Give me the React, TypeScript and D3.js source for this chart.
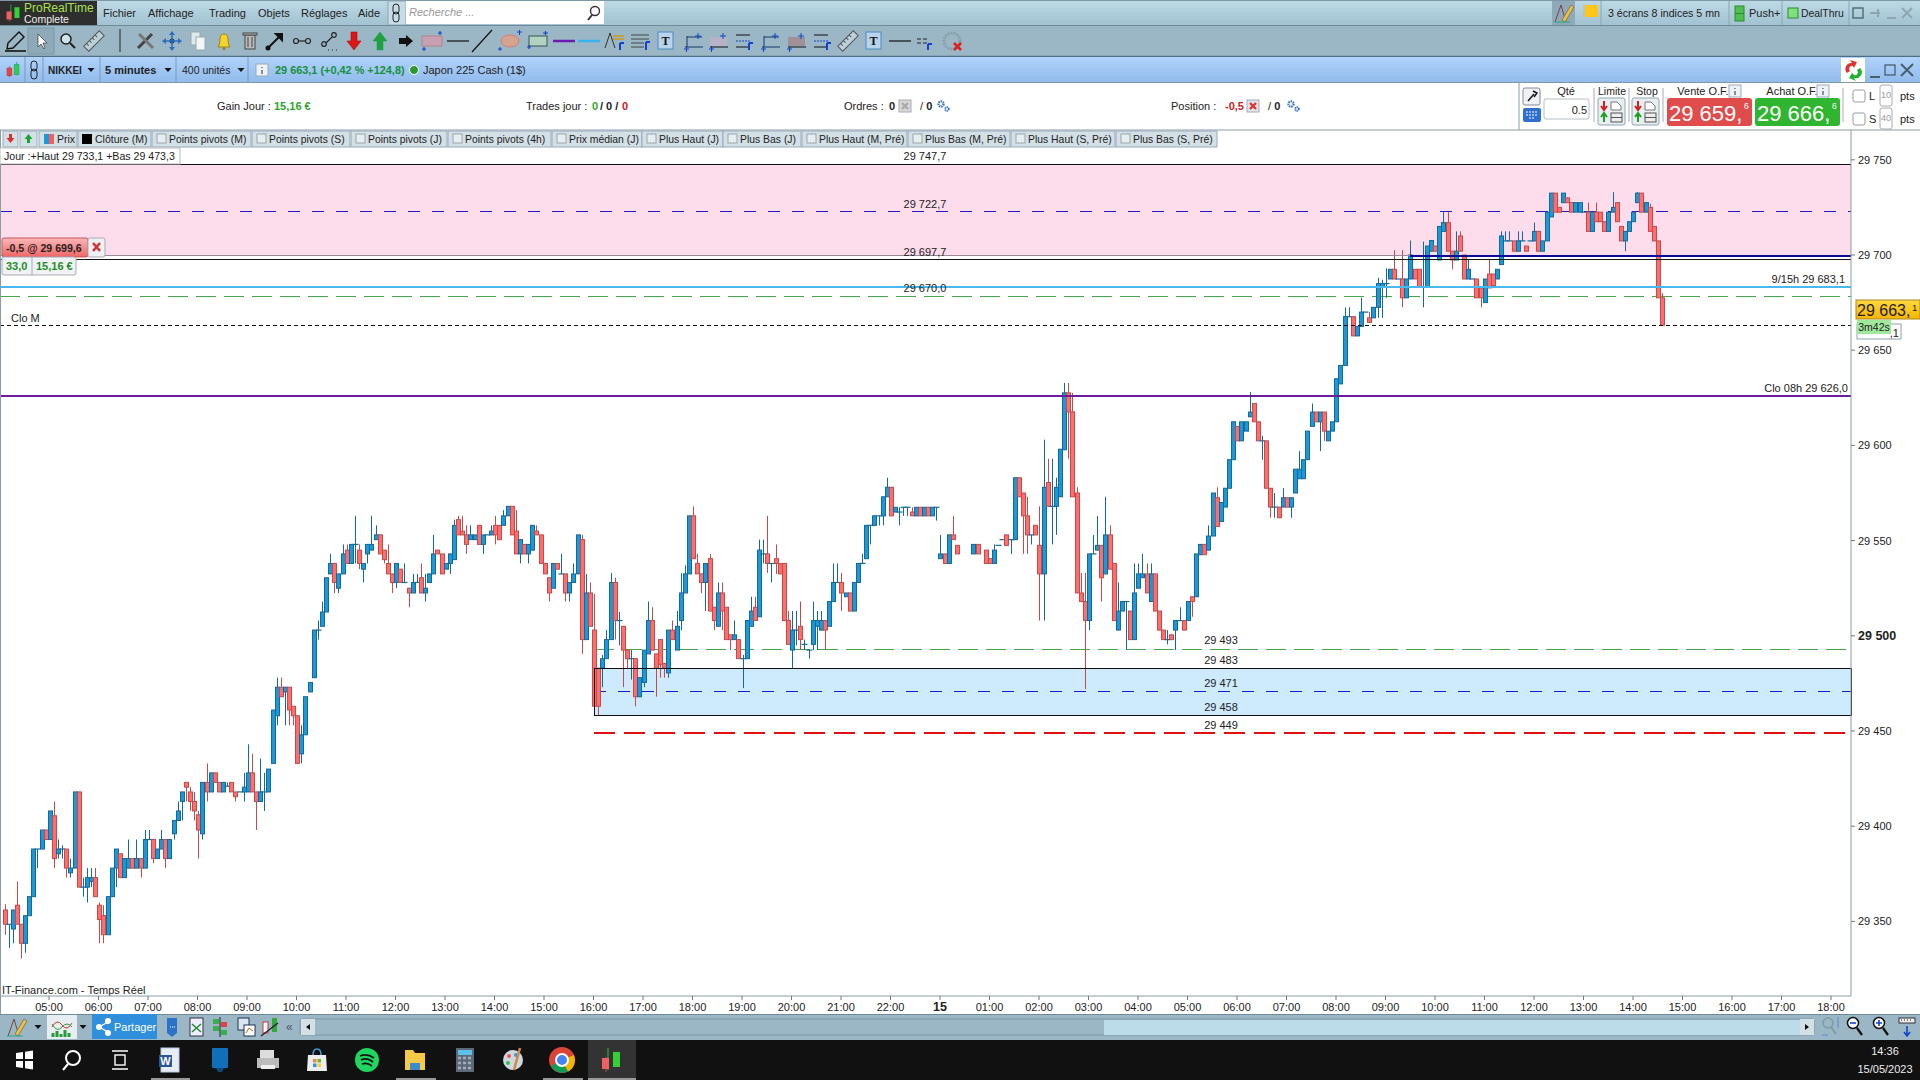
import React from "react";
import * as d3 from "d3";

type Row = [number, number, number, number] | null;

// [open, high, low, close], one row per 5-minute bar
const candlesEvening: Row[] = [
[29356,29359,29343,29348.5],[29348.5,29348.5,29336,29348.5],[29346,29356,29338.5,29356],[29358.5,29371,29348.5,29348.5],[29348.5,29348.5,29330.5,29338.5],
[29338.5,29353,29333.5,29353],[29353,29363,29353,29363],[29363,29388,29363,29388],[29388,29388,29378,29388],[29388,29398,29388,29398],
[29398,29398,29393,29393],[29393,29408,29393,29408],[29405.5,29413,29378,29383],[29385.5,29393,29383,29388],[29388,29390,29383,29388],
[29388,29388,29373,29378],[29375.5,29383,29373,29378],[29378,29418,29378,29418],[29418,29418,29368,29368],[29368,29373,29363,29368],
[29368,29378,29360,29373],[29371,29378,29368,29373],[29373,29378,29363,29363],[29358.5,29360,29338.5,29351],[29353,29358.5,29338.5,29343],
[29343,29363,29343,29363],[29363,29378,29363,29378],[29378,29388,29368,29388],[29385.5,29385.5,29373,29373],[29373,29383,29373,29383],
[29378,29393,29378,29383],[29383,29383,29378,29378],[29378,29393,29378,29383],[29383,29383,29373,29378],[29378,29398,29378,29393],
[29393,29398,29393,29393],[29393,29393,29380.5,29383],[29383,29388,29383,29388],[29388,29398,29388,29393],[29393,29393,29378,29383],
[29383,29393,29383,29393],[29396,29403,29393,29403],[29403,29413,29403,29408],[29413,29418,29403,29418],[29423,29423,29413,29420.5],
[29418,29420.5,29408,29413],[29413,29418,29403,29408],[29406,29408,29383,29398],[29396,29423,29393,29423],[29423,29433,29413,29418],
[29418,29428,29418,29428],[29428,29428,29423,29423],[29423,29423,29418,29418],[29418,29423,29418,29423],[29421,29423,29421,29421],
[29423,29423,29418,29418],[29418,29418,29413,29415.5],[29418,29418,29418,29418],[29418,29428,29413,29420.5],[29418,29443,29418,29428],
[29428,29438,29418,29418],[29418,29418,29398,29413],[29413,29435.5,29413,29418],[29418,29428,29408,29418],[29418,29430,29418,29430],
[29433,29461,29433,29461],[29458,29478,29453,29473],[29473,29478,29468,29468],[29470.5,29473,29453,29473],[29473,29473,29453,29461],
];
const candlesNight: Row[] = [
[29463,29463,29453,29458],[29458,29458,29433,29433],[29438,29453,29433,29448],[29448,29468,29448,29468],[29470.5,29475.5,29470.5,29475.5],
[29478,29503,29478,29503],[29503,29508,29498,29503],[29505,29518,29505,29512.5],[29512.5,29530.5,29512.5,29530.5],[29532.5,29543,29532.5,29538],
[29538,29538,29522.5,29528],[29525,29532.5,29522.5,29532.5],[29532.5,29548,29532.5,29543],[29545,29548,29538,29538],[29538,29548,29538,29548],
[29548,29563,29538,29548],[29545,29548,29535,29538],[29535,29538,29528,29538],[29543,29548,29538,29548],[29545,29563,29545,29548],
[29550.5,29558,29550.5,29553],[29553,29553,29543,29543],[29545,29545,29538,29540],[29538,29548,29532.5,29532.5],[29532.5,29532.5,29522.5,29528],
[29528,29538,29525,29538],[29535,29535,29528,29528],[29528,29538,29528,29528],[29525,29525,29515,29522.5],[29522.5,29532.5,29522.5,29528],
[29528,29532.5,29528,29528],[29530.5,29538,29522.5,29522.5],[29522.5,29532.5,29518,29525],[29528,29532.5,29528,29532.5],[29532.5,29553,29532.5,29543],
[29545,29545,29543,29543],[29543,29543,29532.5,29532.5],[29535,29538,29535,29538],[29538,29543,29532.5,29543],[29540,29561,29540,29558],
[29561,29563,29553,29553],[29555,29563,29553,29553],[29553,29558,29543,29548],[29550.5,29558,29550.5,29553],[29550.5,29553,29550.5,29553],
[29558,29558,29548,29548],[29548,29553,29543,29553],[29553,29553,29553,29553],[29553,29558,29553,29555],[29558,29563,29548,29553],
[29558,29558,29550.5,29550.5],[29558,29566,29558,29563],[29563,29568,29563,29568],[29568,29568,29553,29553],[29555,29566,29543,29543],
[29543,29550.5,29538,29550.5],[29548,29548,29543,29543],[29543,29548,29538,29548],[29545,29558,29545,29558],[29555,29558,29553,29553],
[29553,29553,29538,29538],[29538,29538,29532.5,29532.5],[29530.5,29530.5,29518,29522.5],[29525,29538,29525,29538],[29538,29538,29535,29535],
[29532.5,29543,29532.5,29532.5],[29532.5,29532.5,29518,29522.5],[29522.5,29528,29518,29528],[29528,29538,29528,29532.5],[29532.5,29553,29532.5,29553],
[29550.5,29553,29490.5,29498],
];
const candlesAfternoon: Row[] = [
[29498,29532.5,29498,29522.5],[29522.5,29528,29505,29505],[29503,29522,29463,29463],[29483,29483,29458,29463],[29483,29490,29473,29488],
[29488,29503,29488,29498],[29498,29533,29498,29528],[29528,29530.5,29498,29508],[29508,29512.5,29495,29508],[29505,29505,29473,29492.5],
[29492.5,29492.5,29483,29488],[29488,29492.5,29477,29488],[29488,29488,29463,29468],[29468,29478,29468,29478],[29475.5,29492.5,29473,29492.5],
[29490.5,29518,29490.5,29508],[29508,29515,29492.5,29492.5],[29490.5,29490.5,29468,29483],[29498,29498,29478,29485],[29485.5,29485.5,29478,29483],
[29480.5,29503,29478,29503],[29503,29508,29498,29498],[29492.5,29513,29492.5,29505],[29508,29533,29503,29522.5],[29522.5,29537,29522.5,29532.5],
[29532.5,29563,29532.5,29563],[29563,29568,29540.5,29540.5],[29538,29543,29532.5,29532.5],[29532.5,29532.5,29522.5,29528],[29528,29538,29513,29538],
[29540.5,29543,29513,29513],[29515,29515,29503,29508],[29505,29528,29505,29522.5],[29522.5,29528,29503,29513],[29515,29515,29498,29498],
[29500.5,29500.5,29492.5,29498],[29498,29508,29498,29500.5],[29498,29498,29488,29488],[29488,29490,29472.5,29488],[29488,29508,29488,29508],
[29505,29520.5,29505,29513],[29515,29520.5,29508,29508],[29510,29550.5,29510,29545],[29543,29550.5,29538,29543],[29543,29563,29533,29538],
[29538,29538,29528,29538],[29540.5,29548,29532.5,29538],[29538,29538,29532.5,29532.5],[29538,29538,29508,29508],[29508,29513,29495.5,29495.5],
[29492.5,29513,29483,29503],[29503,29513,29495,29503],[29505,29518,29492.5,29498],[29495.5,29498,29492.5,29495.5],[29492.5,29492.5,29488,29492.5],
[29495.5,29518,29492.5,29508],[29505,29513,29492.5,29508],[29503,29513,29503,29508],[29508,29508,29492.5,29503],[29505,29518,29505,29518],
[29518,29538,29518,29528],[29528,29538,29528,29528],[29528,29533,29513,29522.5],[29520.5,29522.5,29520.5,29522.5],[29522.5,29522.5,29513,29513],
[29513,29528,29513,29528],[29528,29538,29528,29538],[29538,29543,29538,29538],[29540.5,29558,29540.5,29558],[29558,29558,29548,29558],
[29558,29563,29558,29563],[29563,29563,29558,29563],[29563,29573,29558,29573],[29573,29583,29573,29578],[29578,29578,29563,29563],
[29565,29567.5,29565,29567.5],[29565,29567.5,29558,29565],[29567.5,29567.5,29563,29567.5],[29567.5,29567.5,29563,29567.5],[29565,29567.5,29563,29563],
[29563,29567.5,29563,29567.5],[29567.5,29567.5,29563,29563],[29563,29567.5,29563,29567.5],[29567.5,29567.5,29563,29563],[29563,29567.5,29563,29567.5],
[29567.5,29567.5,29560.5,29567.5],
];
const candlesEarlyMorning: Row[] = [
[29540.5,29553,29540.5,29543],[29543,29543,29538,29538],[29538,29553,29538,29553],[29553,29563,29550.5,29550.5],[29547.5,29547.5,29543,29543],
null,null,null,
[29543,29548,29543,29548],[29548,29548,29543,29543],null,[29545,29545,29538,29538],[29540.5,29540.5,29538,29538],
[29538,29548,29538,29545],[29547.5,29547.5,29547.5,29547.5],[29550.5,29550.5,29550.5,29550.5],[29553,29553,29547.5,29547.5],[29550.5,29550.5,29543,29550.5],
[29550.5,29583,29550.5,29583],[29583,29583,29573,29573],[29575,29575,29543,29563],[29563,29573,29543,29553],[29553,29553,29548,29553],
[29558,29558,29553,29553],[29547.5,29568,29508,29532.5],[29532.5,29603,29508,29578],[29580.5,29593,29568,29568],[29568,29593,29548,29568],
[29568,29583,29553,29578],[29573,29598,29573,29598],[29597.7,29632.8,29597.7,29627.6],[29627.6,29632.8,29593,29617.6],[29617.6,29627.6,29573,29573],
[29575,29578,29575,29522.5],[29522.5,29533,29518,29518],[29518,29533,29472,29508],[29508,29543,29503,29543],[29543,29553,29543,29543],
[29545,29563,29545,29547.5],[29547.5,29547.5,29518,29530.5],[29532.5,29573,29532.5,29553],[29553,29558,29535,29535],[29538,29538,29508,29508],
[29503,29528,29503,29513],[29513,29518,29513,29518],[29518,29518,29492.5,29518],[29513,29513,29498,29498],[29498,29538,29498,29522.5],
[29525,29538,29525,29532.5],[29530.5,29543,29530.5,29532.5],[29532.5,29538,29522.5,29522.5],[29518,29538,29518,29532.5],[29532.5,29532.5,29513,29513],
[29513,29513,29503,29503],[29503,29503,29498,29498],[29498,29503,29495.5,29498],[29500.5,29500.5,29498,29498],[29503,29508,29492.5,29508],
[29508,29515,29508,29508],[29508,29508,29503,29503],[29508,29518,29508,29518],[29520.5,29520.5,29510,29518],[29520.5,29543,29520.5,29543],
];
const candlesMorning: Row[] = [
[29542.6,29548,29542.6,29548],[29548,29548,29542.6,29542.6],[29545,29558,29545,29552.4],[29552.4,29575,29552.4,29575],[29572.5,29578,29557.4,29557.4],
[29560,29570,29560,29570],[29567.6,29577.5,29567.6,29577.5],[29577.5,29592.5,29577.5,29592.5],[29592.5,29612.4,29592.5,29612.4],[29610,29610,29602.4,29602.4],
[29602.4,29612.4,29602.4,29612.4],[29607.5,29612.4,29607.5,29612.4],[29615,29628,29615,29617.5],[29622,29622,29612.4,29612.4],[29612.4,29612.4,29602.4,29602.4],
[29602.4,29605,29592.5,29602.4],[29602.4,29602.4,29577.5,29577.5],[29577.5,29577.5,29562,29567.6],[29567.6,29575,29562,29567.6],[29567.6,29567.6,29562,29562],
[29567.6,29577.5,29567.6,29572.5],[29572.5,29572.5,29567.6,29567.6],[29567.6,29572.5,29562,29572.5],[29575,29587.5,29575,29587.5],[29582.5,29597,29582.5,29587.5],
[29582.5,29592.5,29582.5,29592.5],[29592.5,29607.5,29592.5,29607.5],[29610,29622,29610,29617.5],[29617.5,29617.5,29612.4,29612.4],[29612.4,29617.5,29597,29617.5],
[29617.5,29617.5,29602.4,29607.5],[29602.4,29607.5,29602.4,29607.5],[29607.5,29612.4,29607.5,29612.4],[29612.4,29635,29612.4,29635],[29632.3,29642,29632.3,29642],
[29642,29672.5,29642,29667.6],[29667.6,29672.5,29667.6,29667.6],[29667.6,29667.6,29657.5,29657.5],[29657.5,29662.5,29657.5,29662.5],[29662.5,29677.5,29662.5,29670],
[29670,29670,29670,29670],[29667,29670,29664.6,29664.6],[29667,29672.5,29667,29672.5],[29672.5,29688,29667,29685],[29683,29687,29667,29685],
[29685,29693,29677.5,29685],[29687.4,29692.5,29687.4,29692.5],[29692.5,29702.5,29687.4,29687.4],[29687.4,29687.4,29687.4,29687.4],[29687.4,29702.5,29672.5,29677.5],
[29677.5,29687.4,29677.5,29687.4],[29687.4,29707.6,29687.4,29700],[29692.5,29692.5,29687.4,29687.4],[29692.5,29692.5,29683,29683],[29683,29707,29672.5,29683],
[29683,29704.7,29683,29704.7],[29702,29707.6,29702,29707.6],[29704.7,29704.7,29702,29702],[29697.4,29715,29697.4,29715],[29712.4,29722.5,29712.4,29717],
[29717,29722.5,29702,29702],[29702,29702,29692.5,29697.4],[29697.4,29712.4,29697.4,29702],[29710,29712.4,29702,29702],[29700,29700,29687.4,29687.4],
[29687.4,29697.4,29687.4,29692.5],[29687.4,29687.4,29687.4,29687.4],[29687.4,29687.4,29677.5,29677.5],[29682.7,29682.7,29672.5,29677.5],[29675,29687.4,29675,29687.4],
[29690,29697.4,29682.7,29682.7],[29690,29690,29684,29684],[29687.4,29692.5,29687.4,29692.5],[29695,29712.4,29695,29710],[29707.4,29712.4,29707.4,29707.4],
[29707.4,29712.4,29707.4,29707.4],[29707.4,29707.4,29702,29702],[29702,29712.4,29702,29707.4],[29707.4,29712.4,29707.4,29707.4],[29704.7,29704.7,29702,29702],
[29707.4,29707.4,29707.4,29707.4],[29707.4,29717,29707.4,29712.4],[29712.4,29712.4,29702,29702],[29702,29707.4,29702,29707.4],[29707.4,29722.5,29707.4,29722.5],
[29720,29732.5,29720,29732.5],[29732.5,29732.5,29722.5,29722.5],[29725,29725,29722.5,29722.5],[29727.5,29732.5,29727.5,29732.5],[29730,29730,29727.5,29727.5],
[29727.5,29727.5,29722.5,29722.5],[29722.5,29727.5,29722.5,29727.5],[29722.5,29727.5,29722.5,29727.5],[29722.5,29722.5,29722.5,29722.5],[29722.5,29727.5,29712.4,29712.4],
[29712.4,29722.5,29712.4,29722.5],[29722.5,29727.5,29717.5,29717.5],[29722.5,29722.5,29717.5,29717.5],[29717.5,29717.5,29712.4,29712.4],[29712.4,29722.5,29712.4,29722.5],
[29722.5,29733,29722.5,29725],[29727.5,29727.5,29717.5,29717.5],[29715,29715,29707.4,29707.4],[29707.4,29712.4,29702,29712.4],[29712.4,29717.5,29712.4,29717.5],
[29717.5,29722.5,29717.5,29722.5],[29727.5,29733,29727.5,29732.5],[29732.5,29732.5,29722.5,29722.5],[29722.5,29727.5,29722.5,29727.5],[29725,29727,29712.4,29712.4],
[29715,29715,29707.4,29707.4],[29707.4,29707.4,29677.5,29677.5],[29677.5,29680,29663.1,29663.1],
];

const priceTicks = [29750, 29700, 29650, 29600, 29550, 29500, 29450, 29400, 29350];
const timeLabels = ["05:00","06:00","07:00","08:00","09:00","10:00","11:00","12:00","13:00","14:00","15:00","16:00","17:00","18:00","19:00","20:00","21:00","22:00","15","01:00","02:00","03:00","04:00","05:00","06:00","07:00","08:00","09:00","10:00","11:00","12:00","13:00","14:00","15:00","16:00","17:00","18:00"];

const zoneUpperTop = 29747.7, zoneUpperMid = 29722.7, positionPrice = 29699.6, zoneUpperBottom = 29697.7;
const cyanLevel = 29683.1, greenUpperLevel = 29678, closeLevel = 29663.1, purpleLevel = 29626;
const greenLowerLevel = 29493, zoneLowerTop = 29483, zoneLowerMid = 29471, zoneLowerBottom = 29458, redLevel = 29449;
const lowerLabels = [[29493,"29 493",640],[29483,"29 483",660],[29471,"29 471",683],[29458,"29 458",707],[29449,"29 449",725]] as const;
const upperLabels = [["29 747,7",156],["29 722,7",204],["29 697,7",252],["29 670,0",288]] as const;
const indicatorTabs = [["Points pivots (M)",152,251],["Points pivots (S)",252,350],["Points pivots (J)",351,447],["Points pivots (4h)",448,551],["Prix médian (J)",552,642],["Plus Haut (J)",642,723],["Plus Bas (J)",723,801],["Plus Haut (M, Pré)",802,907],["Plus Bas (M, Pré)",908,1010],["Plus Haut (S, Pré)",1011,1115],["Plus Bas (S, Pré)",1116,1217]] as const;
const menuItems = [["Fichier",103],["Affichage",148],["Trading",209],["Objets",258],["Réglages",301],["Aide",358]] as const;

const candles: Row[] = [...candlesEvening, ...candlesNight, ...candlesAfternoon, ...candlesEarlyMorning, ...candlesMorning];
const FONT = "'Liberation Sans', Arial, sans-serif";
const RIGHT = 1851, AXIS_BOTTOM = 996;
const x = d3.scaleLinear().domain([0, 402]).range([4.5, 1662]);
const y = d3.scaleLinear().domain([29350, 29750]).range([921.4, 159.8]);
const tx = d3.scaleLinear().domain([0, 36]).range([49, 1831]);

const T = ({ x, y, s = 11, c = "#222", a = "start", b, i, children }: any) => (
  <text x={x} y={y} fontSize={s} fill={c} textAnchor={a} fontWeight={b ? "bold" : "normal"} fontStyle={i ? "italic" : "normal"} dominantBaseline="central" fontFamily={FONT}>{children}</text>
);

const glyphs: Record<string, any> = {
  pen: <g fill="none" stroke="#111" strokeWidth="1.4"><path d="M-9 8 L-8 2 L3 -9 L8 -4 L-3 7 Z" /><path d="M-11 10H10" strokeWidth="1.6" /></g>,
  cursor: <g><rect x="-13" y="-13" width="26" height="26" fill="#8ea9b7" stroke="#7d97a5" /><path d="M-3 -7 L-3 6 L0 3 L3 8 L4 7 L2 2 L6 2 Z" fill="#fff" stroke="#333" strokeWidth="0.7" /></g>,
  mag: <g fill="none" stroke="#222" strokeWidth="1.5"><circle cx="-2" cy="-2" r="5" fill="#cfe2ea" /><path d="M2 2 L7 7" strokeWidth="2" /></g>,
  ruler: <g transform="rotate(-45)"><rect x="-11" y="-3.5" width="22" height="7" fill="#bcd0d9" stroke="#555" /><path d="M-7 -3.5v3M-3 -3.5v3M1 -3.5v3M5 -3.5v3" stroke="#555" /></g>,
  tools: <g stroke="#444" strokeWidth="3"><path d="M-8 7 L6 -7" /><path d="M-7 -7 L7 7" stroke="#777" /></g>,
  move: <g fill="#2a6fc0"><path d="M0 -10 L3 -6 H-3Z M0 10 L3 6 H-3Z M-10 0 L-6 3 V-3Z M10 0 L6 3 V-3Z" /><circle r="2.5" fill="#234" /><path d="M-6 0H6M0 -6V6" stroke="#2a6fc0" strokeWidth="1.5" /></g>,
  copy: <g fill="#dfe8ec" stroke="#9aa"><rect x="-7" y="-9" width="9" height="13" /><rect x="-2" y="-4" width="9" height="13" fill="#f3f6f7" /></g>,
  bell: <g><path d="M-6 6 Q-4 4 -4 -2 Q-4 -7 0 -7 Q4 -7 4 -2 Q4 4 6 6 Z" fill="#f5d328" stroke="#9a8420" /><circle cy="7.5" r="1.5" fill="#9a8420" /></g>,
  trash: <g fill="#bbb" stroke="#444"><rect x="-5" y="-6" width="10" height="14" /><rect x="-7" y="-8" width="14" height="2" /><path d="M-2 -4V6M2 -4V6" /></g>,
  upright: <g stroke="#111" strokeWidth="2"><path d="M-7 7 L5 -5" /><path d="M1 -7 L7 -7 L7 -1 Z" fill="#111" /><circle cx="-7" cy="7" r="1.5" fill="#111" /></g>,
  link: <g fill="none" stroke="#222" strokeWidth="1.2"><circle cx="-6" r="2.5" /><circle cx="6" r="2.5" /><path d="M-3.5 0H3.5" /></g>,
  poly: <g fill="none" stroke="#222" strokeWidth="1.2"><circle cx="4" cy="-6" r="2.3" /><circle cx="-6" cy="3" r="2.3" /><path d="M2 -4 L-4 2M-2 9h1M2 9h1M6 9h1" /></g>,
  red: <path d="M-3 -9 H3 V0 H7 L0 9 L-7 0 H-3 Z" fill="#e01515" stroke="#900" strokeWidth="0.5" />,
  green: <path d="M-3 9 H3 V0 H7 L0 -9 L-7 0 H-3 Z" fill="#22a03a" stroke="#0a6" strokeWidth="0.5" />,
  black: <path d="M-7 -3 H0 V-6 L7 0 L0 6 V3 H-7 Z" fill="#111" />,
  rectp: <g><rect x="-10" y="-5" width="20" height="10" fill="#c99fb2" stroke="#a88" /><path d="M6 -8h4M8 -10v4M-10 8h4M-8 6v4" stroke="#14c" strokeWidth="1.2" /></g>,
  hline: <path d="M-11 0H11" stroke="#111" strokeWidth="1.2" />,
  diag: <path d="M-10 11 L10 -11" stroke="#111" strokeWidth="1.2" />,
  ellipse: <g><ellipse rx="9" ry="6" fill="#d3a58f" stroke="#d77" /><path d="M7 -9h5M9.5 -11v5M-12 8h4M-10 6v4" stroke="#14c" /></g>,
  rectg: <g><rect x="-9" y="-5" width="18" height="10" fill="#b3d3c2" stroke="#355" /><path d="M5 -8h5M7.5 -10v4M-11 6h4M-9 4v4" stroke="#14c" strokeWidth="1.2" /></g>,
  purple: <path d="M-11 0H11" stroke="#6a1cb0" strokeWidth="2.5" />,
  cyan: <path d="M-11 0H11" stroke="#35b4ee" strokeWidth="2.5" />,
  fib: <g fill="none" stroke="#14c"><path d="M-10 7 L-5 -8 L0 7" stroke="#333" /><path d="M-2 -5H9M-2 -2H9" stroke="#c92" strokeWidth="1.5" /><path d="M5 2H9M5 2V9" strokeWidth="2" /></g>,
  lines: <g stroke="#444"><path d="M-9 -6H9M-9 -2H9M-9 2H4M-9 6H4" /><path d="M6 1H10M6 1V9" stroke="#14c" strokeWidth="2" /></g>,
  tbox: <g><rect x="-8" y="-9" width="15" height="17" fill="#b9d3ea" stroke="#4a89c8" /><text x="-0.5" y="4" fontSize="12" fontWeight="bold" textAnchor="middle" fontFamily="'Liberation Serif'" fill="#111">T</text></g>,
  r1: <g><path d="M-8 6H10M-6 -5V6M-6 -4H9" stroke="#14386a" fill="none" /><path d="M5 -8v6M2 -5h6M-9 8h5M-6.5 5v6" stroke="#14c" /></g>,
  r2: <g><rect x="-8" y="-4" width="17" height="9" fill="#b7b2c8" /><path d="M-8 6H10" stroke="#111" /><path d="M5 -8v6M2 -5h6M-9 8h5M-6.5 5v6" stroke="#14c" /></g>,
  r3: <g><path d="M-8 -6H6M-8 6H6" stroke="#111" /><path d="M-8 0H6" stroke="#14c" strokeDasharray="2 1" /><path d="M5 2H9M5 2V9" stroke="#14c" strokeWidth="2" /></g>,
  r4: <g><rect x="-8" y="-4" width="17" height="9" fill="#8dbdd0" /><path d="M-8 6H10" stroke="#111" /><path d="M5 -8v6M2 -5h6M-9 8h5M-6.5 5v6" stroke="#14c" /></g>,
  r5: <g><rect x="-8" y="-4" width="17" height="9" fill="#a09098" /><path d="M-8 6H10" stroke="#111" /><path d="M5 -8v6M2 -5h6M-9 8h5M-6.5 5v6" stroke="#14c" /></g>,
  small: <g stroke="#222"><path d="M-9 -2h4M-3 -2h4M-9 2h4M-3 2h4" /><path d="M2 3H6M2 3V9" stroke="#14c" strokeWidth="2" /></g>,
  wheel: <g><circle r="8" fill="none" stroke="#86a0ad" strokeWidth="3" strokeDasharray="2 1" /><path d="M2 2 L9 9M9 2 L2 9" stroke="#e02020" strokeWidth="2.5" /></g>,
  chain: <g fill="none" stroke="#222"><rect x="-3" y="-9" width="6" height="10" rx="3" /><rect x="-3" y="-1" width="6" height="10" rx="3" /></g>,
  candle: <g stroke="#2a8"><path d="M-4 -4V8" stroke="#b44" /><rect x="-6.5" y="-2" width="5" height="8" fill="#f04040" stroke="#b44" /><path d="M4 -9V6" /><rect x="1.5" y="-6" width="5" height="11" fill="#35d035" /></g>,
  info: <g><rect x="-6" y="-6" width="12" height="12" fill="#eef2f4" stroke="#9ab" /><path d="M0 -3v1M0 0v4" stroke="#557" strokeWidth="1.3" /></g>,
  gears: <g fill="none" stroke="#2c6fc0"><circle cx="-2" cy="-2" r="2.6" strokeWidth="2.2" strokeDasharray="1.5 0.8" /><circle cx="4" cy="3" r="1.8" strokeWidth="1.8" strokeDasharray="1.2 0.6" /></g>,
  redx: <g><rect x="-6" y="-6" width="12" height="12" fill="#dfe5ea" stroke="#aab" /><path d="M-3 -3 L3 3M3 -3 L-3 3" stroke="#e03030" strokeWidth="2.4" /></g>,
  grayx: <g><rect x="-6" y="-6" width="12" height="12" fill="#d8d8d8" stroke="#aab" /><path d="M-3 -3 L3 3M3 -3 L-3 3" stroke="#aaa" strokeWidth="2.4" /></g>,
  order: <g><rect x="-14" y="-14" width="27" height="27" rx="2" fill="#e8eef1" stroke="#8fa6b2" /><path d="M-8 -11 V-3 M-11 -6 L-8 -2 L-5 -6" stroke="#d02020" strokeWidth="2" fill="none" /><path d="M-8 10 V2 M-11 5 L-8 1 L-5 5" stroke="#20a020" strokeWidth="2" fill="none" /><rect x="-1" y="1" width="11" height="9" fill="#eee" stroke="#555" /><path d="M-1 5.5H10" stroke="#555" /><path d="M-1 -10H5L9 -6V-2H-1Z" fill="#fff" stroke="#777" /></g>,
  xmark: <path d="M-6 -6 L6 6M6 -6 L-6 6" stroke="#49606c" strokeWidth="2" />,
  minimize: <path d="M-5 5H5" stroke="#49606c" strokeWidth="2" />,
  square: <rect x="-5" y="-5" width="10" height="10" fill="none" stroke="#49606c" strokeWidth="1.3" />,
  flag: <g><path d="M-6 -9V9" stroke="#bbb" /><path d="M-5 -8H8V4H-5Z" fill="#ffc61a" /></g>,
  penColor: <g><path d="M-9 9 L-3 -8 L2 9" stroke="#744" fill="none" /><path d="M-2 7 L7 -8 L10 -6 L1 9Z" fill="#ecc23c" stroke="#876" /><path d="M-10 9H6" stroke="#2a8" /></g>,
  chartG: <g><rect x="-15" y="-12" width="30" height="24" fill="#e7eef1" /><path d="M-10 0 Q-5 -9 0 -2 T10 -4" stroke="#c33" fill="none" /><path d="M-10 -3 Q-5 6 0 0 T10 0" stroke="#393" fill="none" /><path d="M-9 10V6M-5 10V4M-1 10V7M3 10V3M7 10V6" stroke="#2a9a3a" strokeWidth="3" /></g>,
  tri: <path d="M-3.5 -2H3.5L0 2Z" fill="#111" />,
  bub: <g><path d="M-5 -9H5V6L0 10L-5 6Z" fill="#2a73c8" /><path d="M-2 0h1M0 0h1M2 0h1" stroke="#fff" /></g>,
  doc: <g><rect x="-6" y="-9" width="13" height="18" fill="#eef" stroke="#334" /><path d="M-4 -3 L5 5M-4 5 L5 -3" stroke="#283" strokeWidth="1.5" /></g>,
  blocks: <g fill="#35b04a"><rect x="-7" y="-8" width="6" height="5" /><rect x="1" y="-5" width="6" height="5" fill="#d44" /><rect x="-7" y="-1" width="6" height="5" /><rect x="1" y="3" width="6" height="5" /><path d="M0 -10V10" stroke="#222" /></g>,
  screens: <g><rect x="-8" y="-9" width="11" height="12" fill="#d9e6f2" stroke="#235" /><rect x="-2" y="-2" width="11" height="11" fill="#fff" stroke="#235" /><path d="M0 6 L3 1 L7 4" stroke="#c60" fill="none" /></g>,
  candleKey: <g><rect x="-7" y="-5" width="5" height="11" fill="#fff" stroke="#c33" /><rect x="2" y="-9" width="5" height="14" fill="#3a3" /><path d="M-9 9 L8 -4" stroke="#223" strokeWidth="1.4" /></g>,
  zoomAuto: <g fill="none" stroke="#7e9aaa"><circle cx="-2" cy="-3" r="5" strokeWidth="1.5" /><path d="M1 1 L6 8" strokeWidth="2" /><path d="M8 -9 V2M-8 9H-2" stroke="#5a8ad0" /></g>,
  zoomOut: <g fill="none" stroke="#111"><circle cx="-2" cy="-3" r="5.5" fill="#fff" strokeWidth="1.5" /><path d="M2 2 L7 9" strokeWidth="2.2" /><path d="M-5 -3H1" stroke="#14c" strokeWidth="1.6" /></g>,
  zoomIn: <g fill="none" stroke="#111"><circle cx="-2" cy="-3" r="5.5" fill="#fff" strokeWidth="1.5" /><path d="M2 2 L7 9" strokeWidth="2.2" /><path d="M-5 -3H1M-2 -6V0" stroke="#14c" strokeWidth="1.6" /></g>,
  dots: <g><rect x="-8" y="-9" width="16" height="5" fill="#eee" stroke="#333" /><path d="M-6 -7h1M-3 -7h1M0 -7h1M3 -7h1" stroke="#111" /><path d="M0 -1V8M-3 5L0 9L3 5" stroke="#14c" strokeWidth="1.6" fill="none" /></g>,
  win: <g fill="#fff"><path d="M-8 -7 L-1 -8 V-1 H-8Z M1 -8.3 L9 -9.5 V-1 H1Z M-8 1 H-1 V8 L-8 7Z M1 1 H9 V9.5 L1 8.3Z" /></g>,
  search: <g fill="none" stroke="#fff" strokeWidth="2"><circle cx="1" cy="-2" r="7" /><path d="M-4 4 L-9 10" /></g>,
  task: <g fill="none" stroke="#fff" strokeWidth="1.4"><rect x="-5" y="-5" width="10" height="10" /><path d="M-8 -9h16M-8 9h16" /></g>,
  word: <g><rect x="-9" y="-12" width="18" height="24" fill="#e6edf7" stroke="#bcd" /><rect x="-11" y="-5" width="13" height="12" fill="#2b5797" /><text x="-4.5" y="5" fontSize="11" fill="#fff" textAnchor="middle" fontFamily={FONT} fontWeight="bold">W</text></g>,
  bluebook: <g><rect x="-8" y="-12" width="16" height="20" rx="1" fill="#0f6fb8" /><path d="M-4 8 H4 L2 12 H-2Z" fill="#0a4a80" /></g>,
  printer: <g><rect x="-8" y="-10" width="14" height="10" fill="#ddd" /><rect x="-11" y="-2" width="22" height="10" fill="#bbb" /><rect x="-7" y="5" width="14" height="4" fill="#eee" /></g>,
  store: <g><path d="M-9 -5 H9 L10 11 H-10Z" fill="#eee" /><path d="M-4 -5 Q-4 -11 0 -11 Q4 -11 4 -5" stroke="#3aa3e0" fill="none" strokeWidth="1.5" /><rect x="-4" y="-1" width="3.5" height="3.5" fill="#e84" /><rect x="0.5" y="-1" width="3.5" height="3.5" fill="#6b3" /><rect x="-4" y="3.5" width="3.5" height="3.5" fill="#39d" /><rect x="0.5" y="3.5" width="3.5" height="3.5" fill="#fc3" /></g>,
  spotify: <g><circle r="12" fill="#1ed760" /><path d="M-7 -4 Q0 -7 7 -2M-6 0 Q0 -3 6 2M-5 4 Q0 2 5 6" stroke="#111" strokeWidth="1.8" fill="none" /></g>,
  folder: <g><path d="M-10 -10 H-2 L0 -7 H10 V10 H-10Z" fill="#f7c948" /><rect x="-5" y="3" width="10" height="7" fill="#3a8bd0" /></g>,
  calc: <g><rect x="-9" y="-12" width="18" height="24" fill="#5a6a78" /><rect x="-7" y="-10" width="14" height="5" fill="#5cc0e8" /><path d="M-7 -2H7M-7 3H7M-7 8H7" stroke="#aab" strokeWidth="2.5" strokeDasharray="3 2" /></g>,
  paint: <g><ellipse rx="10" ry="10" fill="#cfd8de" /><circle cx="-4" cy="-4" r="2" fill="#e55" /><circle cx="3" cy="-5" r="2" fill="#39d" /><circle cx="-5" cy="3" r="2" fill="#3b5" /><path d="M7 -12 L1 10" stroke="#c84" strokeWidth="2.5" /></g>,
  chrome: <g><circle r="13" fill="#db4437" /><path d="M-11 6 A13 13 0 0 0 6 11.5 L0 0Z" fill="#0f9d58" /><path d="M6 11.5 A13 13 0 0 0 12 -5 L0 0Z" fill="#f4b400" /><circle r="6" fill="#4285f4" stroke="#fff" strokeWidth="2" /></g>,
  prt: <g><path d="M-3 -12V10" stroke="#3b3" /><rect x="2" y="-8" width="7" height="15" fill="#35d035" /><path d="M-5 -3V12" stroke="#c44" /><rect x="-9" y="-2" width="7" height="11" fill="#f06060" /></g>,
};
const G = ({ k, x, y, s = 1 }: any) => <g transform={`translate(${x},${y}) scale(${s})`}>{glyphs[k]}</g>;

const tools: [string, number][] = [["pen",16],["cursor",41],["mag",68],["ruler",94],["tools",146],["move",172],["copy",198],["bell",224],["trash",250],["upright",275],["link",302],["poly",330],["red",354],["green",380],["black",406],["rectp",432],["hline",458],["diag",482],["ellipse",510],["rectg",538],["purple",564],["cyan",589],["fib",615],["lines",640],["tbox",666],["r1",693],["r2",718],["r3",744],["r1",770],["r5",796],["r3",822],["ruler",848],["tbox",874],["hline",900],["small",926],["wheel",952]];
const taskbar: [string, number][] = [["win",24],["search",72],["task",120],["word",170],["bluebook",220],["printer",268],["store",317],["spotify",367],["folder",415],["calc",465],["paint",513],["chrome",562],["prt",611]];
const bottomTools: [string, number][] = [["penColor",17],["tri",38],["chartG",62],["tri",83],["bub",172],["doc",196],["blocks",220],["screens",246],["candleKey",270]];

function Candles() {
  return (
    <g>
      {candles.map((r, i) => {
        if (!r) return null;
        const [o, h, l, c] = r;
        const up = c >= o;
        const line = up ? "#14699b" : "#c64a4a";
        const px = Math.round(x(i)) + 0.5;
        const t = y(Math.max(o, c)), b = y(Math.min(o, c));
        return (
          <g key={i}>
            <line x1={px} x2={px} y1={y(h)} y2={y(l)} stroke={line} strokeWidth={1} />
            {b - t < 1.2
              ? <line x1={px - 3} x2={px + 3} y1={t} y2={t} stroke={line} strokeWidth={1.2} />
              : <rect x={px - 2} y={t} width={4} height={b - t} fill={up ? "#1b98d5" : "#ff6d6d"} stroke={line} strokeWidth={1} />}
          </g>
        );
      })}
    </g>
  );
}

export default function App() {
  const gapX = x(143);
  return (
    <svg width={1920} height={1080} viewBox="0 0 1920 1080" style={{ position: "absolute", left: 0, top: 0, background: "#fff" }}>
      <defs>
        <linearGradient id="top" x1="0" x2="0" y1="0" y2="1"><stop offset="0" stopColor="#bddae6" /><stop offset="1" stopColor="#a2c2d1" /></linearGradient>
        <linearGradient id="blue" x1="0" x2="0" y1="0" y2="1"><stop offset="0" stopColor="#b0d2fb" /><stop offset="1" stopColor="#90bbec" /></linearGradient>
        <linearGradient id="pos" x1="0" x2="0" y1="0" y2="1"><stop offset="0" stopColor="#fbb8b8" /><stop offset="1" stopColor="#f26666" /></linearGradient>
        <linearGradient id="yel" x1="0" x2="0" y1="0" y2="1"><stop offset="0" stopColor="#ffd940" /><stop offset="1" stopColor="#f7b500" /></linearGradient>
      </defs>

      {/* plot area */}
      <rect x={0} y={y(zoneUpperTop)} width={RIGHT} height={y(positionPrice) - y(zoneUpperTop)} fill="#fddcec" />
      <rect x={gapX} y={y(zoneLowerTop)} width={RIGHT - gapX} height={y(zoneLowerBottom) - y(zoneLowerTop)} fill="#cdebfd" />
      <g shapeRendering="crispEdges">
        <line x1={0} x2={RIGHT} y1={y(zoneUpperMid)} y2={y(zoneUpperMid)} stroke="#1a1ac0" strokeWidth={1} strokeDasharray="12 12" />
        <line x1={0} x2={RIGHT} y1={y(greenUpperLevel)} y2={y(greenUpperLevel)} stroke="#45a84a" strokeWidth={1} strokeDasharray="20 8" />
        <line x1={gapX} x2={1846} y1={y(greenLowerLevel)} y2={y(greenLowerLevel)} stroke="#45a84a" strokeWidth={1} strokeDasharray="20 8" />
        <line x1={gapX} x2={RIGHT} y1={y(zoneLowerMid)} y2={y(zoneLowerMid)} stroke="#1a1ac0" strokeWidth={1} strokeDasharray="12 12" />
      </g>
      <Candles />
      <g shapeRendering="crispEdges">
        <line x1={0} x2={RIGHT} y1={y(positionPrice)} y2={y(positionPrice)} stroke="#9a8a96" strokeWidth={1} />
        <line x1={x(341)} x2={RIGHT} y1={y(positionPrice)} y2={y(positionPrice)} stroke="#0a0a96" strokeWidth={2} />
        <line x1={0} x2={RIGHT} y1={y(zoneUpperTop)} y2={y(zoneUpperTop)} stroke="#111" strokeWidth={1} />
        <line x1={0} x2={RIGHT} y1={y(zoneUpperBottom)} y2={y(zoneUpperBottom)} stroke="#111" strokeWidth={1} />
        <line x1={0} x2={RIGHT} y1={y(cyanLevel)} y2={y(cyanLevel)} stroke="#47b9ee" strokeWidth={2} />
        <line x1={0} x2={RIGHT} y1={y(closeLevel)} y2={y(closeLevel)} stroke="#111" strokeWidth={1} strokeDasharray="4 3" />
        <line x1={0} x2={RIGHT} y1={y(purpleLevel)} y2={y(purpleLevel)} stroke="#6a1e9a" strokeWidth={2} />
        <rect x={gapX} y={y(zoneLowerTop)} width={RIGHT - gapX} height={y(zoneLowerBottom) - y(zoneLowerTop)} fill="none" stroke="#111" strokeWidth={1} />
        <line x1={gapX} x2={RIGHT} y1={y(redLevel)} y2={y(redLevel)} stroke="#e01010" strokeWidth={2} strokeDasharray="21 9" />
      </g>

      {upperLabels.map(([t, yy]) => <T key={t} x={925} y={yy} a="middle">{t}</T>)}
      {lowerLabels.map(([, t, yy]) => <T key={t} x={1221} y={yy} a="middle">{t}</T>)}
      <T x={1845} y={279} a="end">9/15h 29 683,1</T>
      <T x={1848} y={388} a="end">Clo 08h 29 626,0</T>
      <T x={11} y={318}>Clo M</T>
      <T x={2} y={990}>IT-Finance.com - Temps Réel</T>

      {/* position box */}
      <rect x={2} y={238} width={86} height={19} rx={2} fill="url(#pos)" stroke="#c0595b" />
      <T x={6} y={247.5} s={10.6} b>-0,5 @ 29 699,6</T>
      <rect x={88} y={238} width={17} height={19} rx={2} fill="#eef1f3" stroke="#aab" />
      <path d="M93 243 L100 251 M100 243 L93 251" stroke="#d83030" strokeWidth={2.6} />
      <rect x={2} y={257} width={74} height={18} rx={2} fill="#f0f2f3" stroke="#aab" />
      <line x1={32} x2={32} y1={257} y2={275} stroke="#aab" />
      <T x={6} y={266} c="#1d8f2a" b>33,0</T>
      <T x={36} y={266} c="#1d8f2a" b>15,16 €</T>

      {/* price axis */}
      <rect x={RIGHT + 1} y={130} width={68} height={866} fill="#fff" />
      <line x1={RIGHT} x2={RIGHT} y1={130} y2={AXIS_BOTTOM} stroke="#8a9ca6" />
      {priceTicks.map(p => (
        <g key={p}>
          <line x1={RIGHT} x2={RIGHT + 4} y1={y(p)} y2={y(p)} stroke="#777" />
          <T x={1858} y={y(p)} s={p === 29500 ? 12.5 : 11} b={p === 29500}>{d3.format(",")(p).replace(",", " ")}</T>
        </g>
      ))}
      <rect x={1857} y={324} width={44} height={15} fill="#fff" stroke="#8fa2ad" />
      <T x={1899} y={333} a="end" s={11}>,1</T>
      <rect x={1856} y={300} width={64} height={19} fill="url(#yel)" stroke="#a88a20" />
      <T x={1857} y={310} s={16}>29 663,</T>
      <T x={1912} y={307} s={9.5}>1</T>
      <rect x={1857} y={320} width={34} height={14} fill="#9fe89c" />
      <T x={1874} y={327} a="middle" s={10.5}>3m42s</T>

      {/* time axis */}
      <line x1={0} x2={RIGHT} y1={AXIS_BOTTOM} y2={AXIS_BOTTOM} stroke="#8a9ca6" />
      {timeLabels.map((t, i) => (
        <g key={i}>
          <line x1={tx(i)} x2={tx(i)} y1={AXIS_BOTTOM} y2={AXIS_BOTTOM + 4} stroke="#777" />
          <T x={tx(i)} y={1007} a="middle" s={t === "15" ? 12.5 : 11} b={t === "15"}>{t}</T>
        </g>
      ))}
      <line x1={0} x2={0} y1={130} y2={1014} stroke="#8a9ca6" strokeWidth={2} />

      {/* top bar */}
      <rect x={0} y={0} width={1920} height={25} fill="url(#top)" />
      <line x1={0} x2={1920} y1={0.5} y2={0.5} stroke="#7f98a5" />
      <rect x={0} y={1} width={97} height={24} fill="#2e2e2e" />
      <G k="prt" x={13} y={13} s={0.72} />
      <T x={24} y={8} s={12} c="#a9e24f">ProRealTime</T>
      <T x={24} y={19} s={10.5} c="#f0f0f0">Complete</T>
      {menuItems.map(([t, xx]) => <T key={t} x={xx} y={13}>{t}</T>)}
      <rect x={388} y={1} width={18} height={24} fill="#c5dde8" stroke="#8fa6b2" />
      <G k="chain" x={396} y={13} />
      <rect x={406} y={1} width={198} height={23} fill="#fff" />
      <T x={409} y={12} c="#999" i>Recherche ...</T>
      <g transform="translate(594,13)" fill="none" stroke="#333" strokeWidth={1.4}><circle cx={1} cy={-2} r={4.5} /><path d="M-2 2 L-6 7" strokeWidth={2} /></g>
      <rect x={1552} y={1} width={23} height={24} fill="#8fa9b8" />
      <G k="penColor" x={1564} y={13} />
      <G k="flag" x={1590} y={13} />
      {[1601, 1729, 1782, 1849].map(v => <line key={v} x1={v} x2={v} y1={1} y2={25} stroke="#8fa6b2" />)}
      <T x={1608} y={13} s={10.6}>3 écrans 8 indices 5 mn</T>
      <rect x={1735} y={6} width={9} height={15} fill="#4fc04f" stroke="#2c8a2c" /><line x1={1735} x2={1744} y1={13.5} y2={13.5} stroke="#2c8a2c" />
      <T x={1749} y={13}>Push+</T>
      <rect x={1788} y={8} width={10} height={10} fill="#7fe07f" stroke="#2c8a2c" />
      <T x={1801} y={13} s={10.4}>DealThru</T>
      <G k="square" x={1858} y={13} />
      <path d="M1870 13H1880M1878 9V17" stroke="#8fa6b2" strokeWidth={2} />
      <path d="M1887 18H1896" stroke="#8fa6b2" strokeWidth={2} />
      <path d="M1902 8 L1912 18M1912 8 L1902 18" stroke="#8fa6b2" strokeWidth={2} />

      {/* toolbar */}
      <rect x={0} y={25} width={1920} height={32} fill="#9bb7c5" />
      <line x1={0} x2={1920} y1={25.5} y2={25.5} stroke="#6f8a98" />
      <line x1={0} x2={1920} y1={56.5} y2={56.5} stroke="#4f6f85" strokeWidth={1.4} />
      <line x1={120} x2={120} y1={29} y2={52} stroke="#222" />
      {tools.map(([k, xx], i) => <G key={i} k={k} x={xx} y={41} />)}

      {/* instrument bar */}
      <rect x={0} y={57} width={1920} height={26} fill="url(#blue)" />
      <line x1={0} x2={1920} y1={82.5} y2={82.5} stroke="#7f98a5" />
      {[25, 43, 100, 176, 248].map(v => <line key={v} x1={v} x2={v} y1={57} y2={82} stroke="#7f98b5" />)}
      <G k="candle" x={13} y={70} s={0.9} />
      <G k="chain" x={34} y={70} />
      <T x={48} y={70} b s={10}>NIKKEI</T>
      <G k="tri" x={91} y={70} />
      <T x={105} y={70} b>5 minutes</T>
      <G k="tri" x={168} y={70} />
      <T x={182} y={70} s={10.5}>400 unités</T>
      <G k="tri" x={241} y={70} />
      <G k="info" x={262} y={70} />
      <T x={275} y={70} c="#17903a" b s={10.9}>29 663,1 (+0,42 % +124,8)</T>
      <circle cx={414} cy={70} r={4.5} fill="#2d9a2d" stroke="#fff" />
      <T x={423} y={70}>Japon 225 Cash (1$)</T>
      <rect x={1841} y={58} width={24} height={24} fill="#fff" />
      <path d="M1847 73 A6 6 0 0 1 1852 63 L1850 60 L1857 62 L1854 68 L1853 66 A3 3 0 0 0 1850 71Z" fill="#e03030" />
      <path d="M1860 68 A6 6 0 0 1 1854 78 L1856 81 L1849 78 L1852 73 L1854 75 A3 3 0 0 0 1857 70Z" fill="#20b030" />
      <G k="minimize" x={1875} y={72} />
      <G k="square" x={1890} y={70} />
      <G k="xmark" x={1907} y={70} />

      {/* account strip */}
      <T x={217} y={106}>Gain Jour :</T>
      <T x={274} y={106} c="#2ba52b" b>15,16 €</T>
      <T x={526} y={106}>Trades jour :</T>
      <T x={592} y={106} c="#2ba52b" b>0</T>
      <T x={600} y={106} b>/ 0 /</T>
      <T x={622} y={106} c="#c82020" b>0</T>
      <T x={844} y={106}>Ordres :</T>
      <T x={889} y={106} b>0</T>
      <G k="grayx" x={905} y={106} />
      <T x={920} y={106}>/ <tspan fontWeight="bold">0</tspan></T>
      <G k="gears" x={943} y={106} />
      <T x={1171} y={106}>Position :</T>
      <T x={1225} y={106} c="#c82020" b>-0,5</T>
      <G k="redx" x={1253} y={106} />
      <T x={1268} y={106}>/ <tspan fontWeight="bold">0</tspan></T>
      <G k="gears" x={1293} y={106} />
      <line x1={0} x2={1920} y1={130} y2={130} stroke="#8a9ca6" />
      <line x1={1519} x2={1519} y1={83} y2={130} stroke="#8a9ca6" />

      {/* order panel */}
      <rect x={1523} y={88} width={17} height={17} rx={2} fill="#eef2f4" stroke="#889" />
      <path d="M1528 101 L1534 94 M1533 91 L1537 93 L1534 97" stroke="#111" fill="none" strokeWidth={1.4} />
      <rect x={1523} y={108} width={18} height={14} rx={2} fill="#2f6fd0" />
      <path d="M1526 112H1538M1526 115H1538M1529 118H1535" stroke="#fff" strokeDasharray="2 1" />
      <T x={1566} y={91} a="middle">Qté</T>
      <rect x={1544} y={99} width={45} height={20} rx={2} fill="#fff" stroke="#b4bec4" />
      <T x={1587} y={110} a="end">0.5</T>
      <T x={1612} y={91} a="middle" s={10.5}>Limite</T>
      <T x={1647} y={91} a="middle" s={10.5}>Stop</T>
      <G k="order" x={1612} y={112} />
      <G k="order" x={1646} y={112} />
      {[1594, 1629, 1663, 1843].map(v => <line key={v} x1={v} x2={v} y1={88} y2={122} stroke="#aab" />)}
      <T x={1703} y={91} a="middle">Vente O.F.</T>
      <G k="info" x={1735} y={91} />
      <T x={1792} y={91} a="middle">Achat O.F.</T>
      <G k="info" x={1823} y={91} />
      <rect x={1667} y={98} width={85} height={28} rx={3} fill="#e04c4c" />
      <rect x={1755} y={98} width={85} height={28} rx={3} fill="#2fb52f" />
      <T x={1669} y={113} s={22} c="#fff">29 659,</T>
      <T x={1744} y={106} s={8.5} c="#fff">6</T>
      <T x={1757} y={113} s={22} c="#fff">29 666,</T>
      <T x={1832} y={106} s={8.5} c="#fff">6</T>
      {[[90, "L", "10", 85], [113, "S", "40", 108]].map(([cy, lab, val, by]: any) => (
        <g key={lab}>
          <rect x={1853} y={cy} width={12} height={12} rx={2} fill="#fff" stroke="#99a" />
          <T x={1869} y={cy + 6}>{lab}</T>
          <rect x={1880} y={by} width={12} height={21} rx={2} fill="#fff" stroke="#aab" />
          <T x={1886} y={by + 10} a="middle" c="#999" s={9}>{val}</T>
          <T x={1900} y={cy + 6}>pts</T>
        </g>
      ))}

      {/* indicator tabs */}
      <rect x={3} y={131} width={15} height={16} fill="#d3e0e6" stroke="#9ab" />
      <path d="M10.5 143 L6.5 138 H9 V134 H12 V138 H14.5Z" fill="#d83030" />
      <rect x={20} y={131} width={17} height={16} fill="#d3e0e6" stroke="#9ab" />
      <path d="M28.5 134 L32.5 139 H30 V143 H27 V139 H24.5Z" fill="#20a030" />
      <rect x={39} y={131} width={38} height={16} fill="#d3e0e6" stroke="#9ab" />
      <rect x={44} y={134} width={5} height={10} fill="#1b98d5" /><rect x={49} y={134} width={5} height={10} fill="#f06060" />
      <T x={57} y={139} s={10.5}>Prix</T>
      <rect x={78} y={131} width={73} height={16} fill="#d3e0e6" stroke="#9ab" />
      <rect x={82} y={134} width={10} height={10} fill="#000" />
      <T x={95} y={139} s={10.5}>Clôture (M)</T>
      {indicatorTabs.map(([t, a, b]) => (
        <g key={t}>
          <rect x={a} y={131} width={b - a} height={16} fill="#d3e0e6" stroke="#9ab" />
          <rect x={a + 5} y={134} width={9} height={9} fill="#e7eef1" stroke="#99a6ad" />
          <T x={a + 17} y={139} s={10.4}>{t}</T>
        </g>
      ))}
      <rect x={0} y={148} width={180} height={16} fill="#fff" stroke="#bbb" />
      <T x={4} y={156} s={10.6}>Jour :+Haut 29 733,1 +Bas 29 473,3</T>

      {/* bottom toolbar */}
      <rect x={0} y={1014} width={1920} height={26} fill="#9bb7c5" />
      <line x1={0} x2={1920} y1={1014.5} y2={1014.5} stroke="#6f8a98" />
      {bottomTools.map(([k, xx], i) => <G key={i} k={k} x={xx} y={1027} />)}
      <rect x={92} y={1014} width={65} height={25} fill="#2f8fdc" />
      <path d="M99 1027 L108 1022 M99 1027 L108 1032" stroke="#fff" strokeWidth={1.4} />
      <circle cx={99} cy={1027} r={3} fill="#fff" /><circle cx={108} cy={1021} r={3} fill="#fff" /><circle cx={108} cy={1033} r={3} fill="#fff" />
      <T x={114} y={1027} c="#fff">Partager</T>
      <T x={286} y={1027} c="#556" s={12}>«</T>
      <rect x={300} y={1019} width={1514} height={16} rx={2} fill="#9bb7c5" stroke="#7f98a5" />
      <rect x={1104} y={1020} width={696} height={15} fill="#bcdcea" />
      <rect x={301} y={1019} width={14} height={16} fill="#d3e0e6" />
      <path d="M306 1027 L310 1024 V1030Z" fill="#111" />
      <rect x={1800} y={1019} width={14} height={16} fill="#d3e0e6" />
      <path d="M1809 1027 L1805 1024 V1030Z" fill="#111" />
      <G k="zoomAuto" x={1830} y={1026} />
      <G k="zoomOut" x={1855} y={1026} />
      <G k="zoomIn" x={1881} y={1026} />
      <G k="dots" x={1907} y={1027} />

      {/* taskbar */}
      <rect x={0} y={1040} width={1920} height={40} fill="#111" />
      <rect x={588} y={1040} width={48} height={40} fill="#333" />
      {taskbar.map(([k, xx]) => <G key={k} k={k} x={xx} y={1060} />)}
      {[[151, 190], [396, 436], [543, 583], [588, 636]].map(([a, b]) => <rect key={a} x={a} y={1078} width={b - a} height={2} fill="#999" />)}
      <T x={1885} y={1051} a="middle" c="#eee">14:36</T>
      <T x={1885} y={1069} a="middle" c="#eee">15/05/2023</T>
    </svg>
  );
}
